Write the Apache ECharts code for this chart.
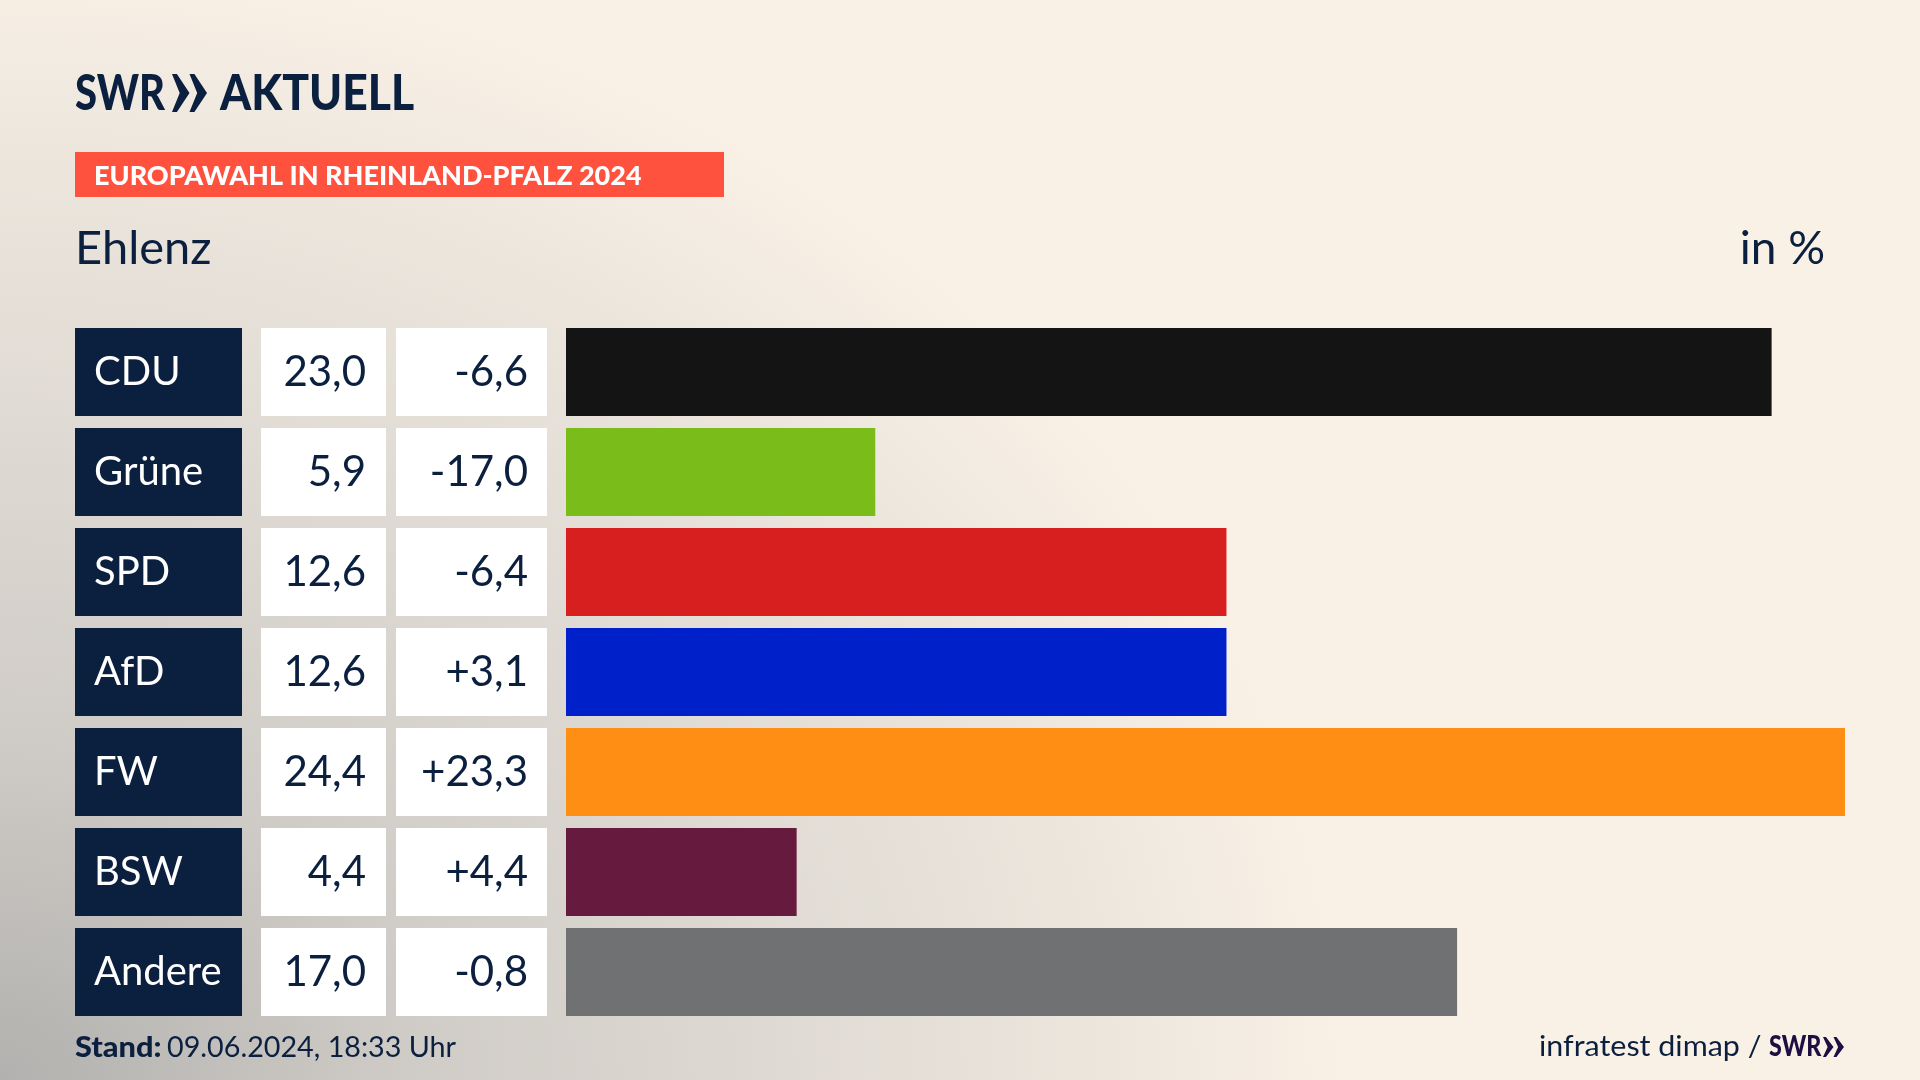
<!DOCTYPE html>
<html lang="de">
<head>
    <meta charset="UTF-8">
    <title>Europawahl in Rheinland-Pfalz 2024 - Ehlenz</title>
    <style>
        html, body { margin: 0; padding: 0; }
        /* grey shading comes in from the lower left corner */
        #chart {
            width: 1920px;
            height: 1080px;
            background:
                radial-gradient(ellipse 1350px 1130px at 0 100%, #b2b1af 0%, #cfcbc6 30%, #e0dbd4 60%, #ebe5dc 80%, #faf1e6 100%),
                #faf1e6;
        }
    </style>
    <script src="https://cdn.jsdelivr.net/npm/echarts@6/dist/echarts.min.js"></script>
</head>
<body>
    <div id="chart"></div>
    <script type="text/javascript">
        var parties = ['CDU', 'Grüne', 'SPD', 'AfD', 'FW', 'BSW', 'Andere'];
        var shares = [23.0, 5.9, 12.6, 12.6, 24.4, 4.4, 17.0];
        var changes = ['-6,6', '-17,0', '-6,4', '+3,1', '+23,3', '+4,4', '-0,8'];
        var colors = ['#141414', '#7abd1a', '#d71f1f', '#0021c9', '#ff8e15', '#651a3e', '#707173'];

        var navy = '#0b1f3f';
        var font = 'Lato';

        function cellAxis(labels, offset, opts) {
            var label = {
                interval: 0,
                margin: 0,
                hideOverlap: false,
                fontFamily: font,
                fontSize: 42,
                height: 88,
                lineHeight: 92, // text sits a little below the middle of the cell
                color: navy,
                backgroundColor: '#fff',
                align: 'right'
            };
            for (var k in opts) label[k] = opts[k];
            return {
                type: 'category',
                inverse: true,
                position: 'left',
                offset: offset,
                data: labels,
                axisLine: { show: false },
                axisTick: { show: false },
                axisLabel: label
            };
        }

        // y is the baseline, zrender places the text from its top
        function text(x, y, str, size, weight, color, align, scaleX) {
            return {
                type: 'text',
                x: x,
                y: y - size * 0.85,
                scaleX: scaleX || 1,
                style: {
                    text: str,
                    fontFamily: font,
                    fontSize: size,
                    fontWeight: weight,
                    fill: color,
                    textAlign: align || 'left'
                }
            };
        }

        // the two arrows of the SWR logo
        function chevrons(x, y, w, h, color) {
            var one = function (x0) {
                return {
                    type: 'polygon',
                    shape: { points: [[x0, y], [x0 + w * 0.14, y], [x0 + w * 0.5, y + h / 2], [x0 + w * 0.14, y + h], [x0, y + h], [x0 + w * 0.22, y + h / 2]] },
                    style: { fill: color }
                };
            };
            return [one(x), one(x + w * 0.5)];
        }

        var chart = echarts.init(document.getElementById('chart'), null, { renderer: 'canvas' });

        var shareLabels = shares.map(function (v) { return v.toFixed(1).replace('.', ','); });

        chart.setOption({
            backgroundColor: 'transparent',
            animation: false,
            graphic: [
                { type: 'rect', shape: { x: 75, y: 152, width: 649, height: 45 }, style: { fill: '#ff523e' } },
                text(94, 186, 'EUROPAWAHL IN RHEINLAND-PFALZ 2024', 27, 900, '#fff', 'left', 1),
                text(75, 111, 'SWR', 50, 900, navy, 'left', 0.8),
                text(220, 111, 'AKTUELL', 50, 900, navy, 'left', 0.89)
            ].concat(chevrons(172, 74, 35, 38, navy), [
                text(75, 265.5, 'Ehlenz', 47, 400, navy),
                text(1825, 265.5, 'in %', 46, 400, navy, 'right'),
                text(75, 1058, 'Stand:', 29, 900, navy, 'left', 1.06),
                text(167, 1058, '09.06.2024, 18:33 Uhr', 29, 400, navy, 'left', 0.99),
                text(1539, 1057, 'infratest dimap /', 29, 400, navy, 'left', 1.05),
                text(1769, 1057, 'SWR', 28, 900, '#1d0f42', 'left', 0.83)
            ], chevrons(1823, 1037, 21, 20, '#1d0f42')),
            grid: { left: 566, top: 322, width: 1279, height: 700 },
            xAxis: { type: 'value', min: 0, max: 24.4, show: false },
            yAxis: [
                cellAxis(parties, 491, {
                    fontSize: 40,
                    color: '#fff',
                    backgroundColor: navy,
                    align: 'left',
                    width: 148,
                    padding: [0, 0, 0, 19]
                }),
                cellAxis(shareLabels, 180, { width: 105, padding: [0, 20, 0, 0] }),
                cellAxis(changes, 19, { width: 132, padding: [0, 19, 0, 0] })
            ],
            series: [{
                type: 'bar',
                barWidth: 88,
                yAxisIndex: 0,
                data: shares.map(function (v, i) {
                    return { value: v, itemStyle: { color: colors[i] } };
                })
            }]
        });
    </script>
</body>
</html>
